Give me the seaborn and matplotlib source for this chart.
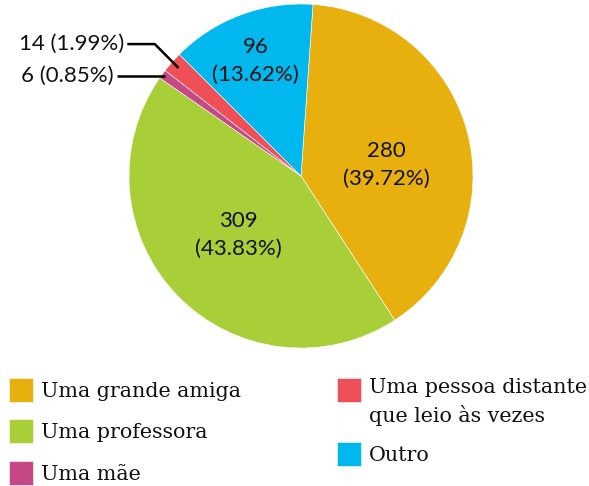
import numpy as np
import matplotlib
matplotlib.use("Agg")
import matplotlib.pyplot as plt
from matplotlib.offsetbox import HPacker, TextArea
import seaborn as sns

# data
categorias = ["Uma grande amiga", "Uma professora", "Uma mãe",
              "Uma pessoa distante\nque leio às vezes", "Outro"]
respostas = [280, 309, 6, 14, 96]
cores = ["#E8B00F", "#A8CF38", "#C64884", "#EF5058", "#00B7EE"]

sns.set_style("white")
plt.rcParams["font.family"] = ["Lato", "DejaVu Sans"]

total = sum(respostas)
pct = [100 * v / total for v in respostas]

fig = plt.figure(figsize=(5.89, 4.86), dpi=100)
# pie centre ~ (301,176) px, radius ~172 px
ax = fig.add_axes([129 / 589, 138 / 486, 344 / 589, 344 / 486])

wedges, _ = ax.pie(respostas, colors=cores, startangle=86, counterclock=False,
                   wedgeprops=dict(edgecolor="white", linewidth=0.4))
ax.set_xlim(-1, 1)
ax.set_ylim(-1, 1)
ax.set_aspect("equal")

# labels inside the big slices: (radius, angle shift)
inside = {0: (0.50, -7), 1: (0.50, -0.5), 4: (0.72, 1)}
for i, (r, dth) in inside.items():
    w = wedges[i]
    ang = np.deg2rad((w.theta1 + w.theta2) / 2 + dth)
    ax.text(r * np.cos(ang), r * np.sin(ang),
            f"{respostas[i]}\n({pct[i]:.2f}%)", ha="center", va="center",
            fontsize=16, linespacing=1.5, color="#111111")

# small slices get labels outside with leader lines
def mid_point(w, r):
    a = np.deg2rad((w.theta1 + w.theta2) / 2)
    return r * np.cos(a), r * np.sin(a)

# Uma pessoa distante
px, py = mid_point(wedges[3], 0.95)
ax.text(-1.025, 0.767, f"{respostas[3]} ({pct[3]:.2f}%)", ha="right", va="center",
        fontsize=16, color="#111111")
ax.plot([-1.01, -0.85, px], [0.767, 0.767, py], color="black", lw=1.8,
        clip_on=False, solid_capstyle="butt")

# Uma mae
mx, my = mid_point(wedges[2], 0.98)
ax.text(-1.09, my, f"{respostas[2]} ({pct[2]:.2f}%)", ha="right", va="center",
        fontsize=16, color="#111111")
ax.plot([-1.07, mx], [my, my], color="black", lw=1.8, clip_on=False,
        solid_capstyle="butt")

leg_kw = dict(loc="upper left", frameon=False, borderpad=0, borderaxespad=0,
              prop=dict(family="DejaVu Serif", size=14.9),
              handlelength=1.15, handleheight=1.4, handletextpad=0.39)
leg1 = fig.legend(wedges[:3], categorias[:3], labelspacing=0.85,
                  bbox_to_anchor=(9 / 589, 1 - 378 / 486), **leg_kw)
leg2 = fig.legend(wedges[3:], categorias[3:], labelspacing=0.8,
                  bbox_to_anchor=(337 / 589, 1 - 378 / 486), **leg_kw)
for leg in (leg1, leg2):
    for t in leg.get_texts():
        t.set_color("#111111")
        t.set_linespacing(1.45)
    # keep the handle of the two-line entry next to its first line
    for hp in leg.findobj(HPacker):
        kids = hp.get_children()
        if len(kids) == 2 and isinstance(kids[1], TextArea) and "\n" in kids[1].get_text():
            hp.align = "top"

fig.savefig("out.png", dpi=100)
